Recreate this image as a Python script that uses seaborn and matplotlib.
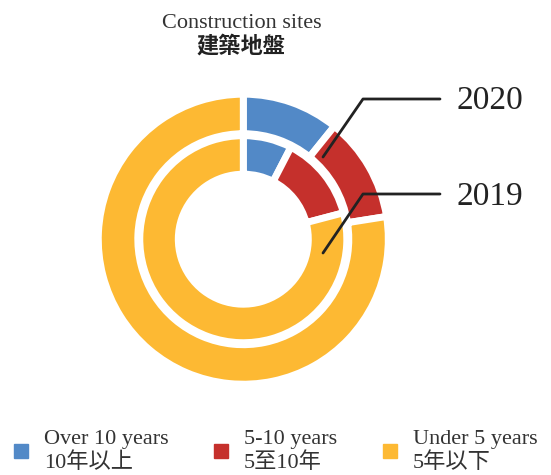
import matplotlib
matplotlib.use("Agg")
import matplotlib.pyplot as plt
from matplotlib.lines import Line2D
import seaborn as sns

# data
categories = ["Over 10 years\n10年以上", "5-10 years\n5至10年", "Under 5 years\n5年以下"]
colors = ["#5289C7", "#C5302C", "#FDB933"]
share_2020 = [10.8, 11.7, 77.5]   # outer ring
share_2019 = [7.6, 13.3, 79.1]    # inner ring
ring_labels = ["2020", "2019"]

sns.set_theme(style="white")
plt.rcParams["font.family"] = ["Liberation Serif", "Noto Sans CJK TC"]

W, H = 551, 475
fig = plt.figure(figsize=(W / 100, H / 100), dpi=100)
ax = fig.add_axes([0, 0, 1, 1])

cx, cy = 243.3, H - 239.2
wedge = dict(edgecolor="white", linewidth=5)

# outer ring = 2020, inner ring = 2019 (blue slice pulled out slightly)
ax.pie(share_2020, colors=colors, radius=145, center=(cx, cy),
       startangle=90, counterclock=False, explode=[0.03, 0, 0],
       wedgeprops=dict(width=39.5, **wedge), frame=True)
ax.pie(share_2019, colors=colors, radius=103.5, center=(cx, cy),
       startangle=90, counterclock=False, explode=[0.02, 0, 0],
       wedgeprops=dict(width=38.5, **wedge), frame=True)
ax.set_xlim(0, W)
ax.set_ylim(0, H)
ax.axis("off")

# leader lines and ring labels
ax.plot([323, 363, 440], [H - 157, H - 99, H - 99], color="#222222", lw=2)
ax.plot([323, 363, 440], [H - 253, H - 194, H - 194], color="#222222", lw=2)
ax.text(456, H - 109, ring_labels[0], fontsize=24, va="baseline", ha="left", color="#222222")
ax.text(456, H - 205, ring_labels[1], fontsize=24, va="baseline", ha="left", color="#222222")

# title
ax.text(242, H - 27.5, "Construction sites", fontsize=16, ha="center", va="baseline", color="#333333")
ax.text(241, H - 46.5, "建築地盤", fontsize=16, fontweight="bold", ha="center", va="center",
        color="#222222", family=["Noto Sans CJK TC"])

# legend
handles = [Line2D([0], [0], marker="s", linestyle="none", markersize=10.5,
                  markerfacecolor=c, markeredgecolor=c) for c in colors]
fig.legend(handles, categories, loc="lower left", bbox_to_anchor=(10 / W, 2 / H),
           ncol=3, frameon=False, fontsize=16, handlelength=1.0, handletextpad=0.54,
           columnspacing=1.85, borderpad=0, borderaxespad=0, labelcolor="#333333")

fig.savefig("out.png", dpi=100)
